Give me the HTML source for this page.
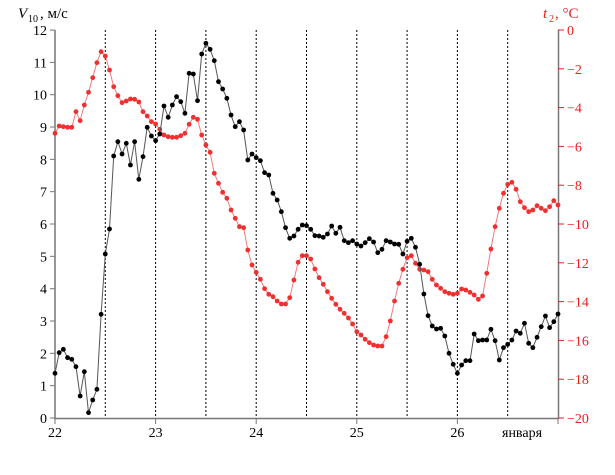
<!DOCTYPE html>
<html><head><meta charset="utf-8"><style>
html,body{margin:0;padding:0;background:#fff;}
svg{display:block;font-family:"Liberation Serif","DejaVu Serif",serif;}
</style></head><body>
<svg id="s" width="615" height="475" xmlns="http://www.w3.org/2000/svg">
<g id="grid"></g>
<line x1="55" y1="30" x2="55" y2="419" stroke="#777" stroke-width="1.5"/>
<line x1="558.5" y1="30" x2="558.5" y2="419" stroke="#777" stroke-width="1.5"/>
<line x1="54" y1="418.5" x2="559" y2="418.5" stroke="#777" stroke-width="1.5"/>
<g id="ticks"></g>
<g id="series"></g>
<text x="18" y="18" font-size="15" font-style="italic">V</text><text x="28" y="22" font-size="10">10</text><text x="40" y="18" font-size="15">, м/с</text>
<text x="543" y="18" font-size="15" fill="#e8211f" font-style="italic">t</text><text x="549" y="22" font-size="10" fill="#e8211f">2</text><text x="555" y="18" font-size="15" fill="#e8211f">, °C</text>
<text x="502" y="437" font-size="14">января</text>
</svg>
<script>
const ns="http://www.w3.org/2000/svg";
function el(p,t,a,txt){const e=document.createElementNS(ns,t);for(const k in a)e.setAttribute(k,a[k]);if(txt!==undefined)e.textContent=txt;document.getElementById(p).appendChild(e);}
const X=h=>55+h*100.6/24;
for(let i=1;i<=9;i++){const x=X(i*12);el("grid","line",{x1:x,y1:30,x2:x,y2:418,stroke:"#000","stroke-width":1,"stroke-dasharray":"2,2"});}
for(let v=0;v<=12;v++){const y=418-v*32.33;el("ticks","line",{x1:50,y1:y,x2:55,y2:y,stroke:"#777"});el("ticks","text",{x:47,y:y+5,"font-size":14,"text-anchor":"end"},v);}
for(let t=0;t>=-20;t-=2){const y=30-t*19.4;el("ticks","line",{x1:558,y1:y,x2:564,y2:y,stroke:"#e8211f"});el("ticks","text",{x:567,y:y+5,"font-size":14,fill:"#e8211f"},t==0?"0":"\u2212"+(-t));}
for(let d=0;d<=5;d++){const x=X(d*24);el("ticks","line",{x1:x,y1:418,x2:x,y2:424,stroke:"#777"});if(d<5)el("ticks","text",{x:x,y:437,"font-size":14,"text-anchor":"middle"},22+d);}
const B=[1030,968,958,983,988,1010,1098,1025,1148,1110,1078,853,672,597,378,335,372,340,405,335,448,380,292,318,332,312,228,262,225,200,215,250,130,132,212,72,40,58,92,155,177,205,255,290,275,300,390,372,383,
392,428,435,490,510,545,593,625,618,598,585,587,598,617,618,622,612,588,610,592,632,638,632,642,648,638,626,636,668,658,632,636,642,643,672,634,
625,652,703,792,857,888,897,895,918,970,1003,1030,1005,992,992,912,932,930,930,898,932,990,953,943,930,903,910,880,940,953,922,890,858,893,875,852];
const R=[310,288,290,292,292,245,272,225,187,143,98,65,78,120,170,197,218,213,207,208,216,245,258,275,282,298,315,320,322,322,317,310,283,262,268,315,345,367,430,460,487,505,540,565,590,
593,660,705,727,748,776,793,800,813,822,822,803,750,697,677,677,687,717,743,763,785,805,823,838,850,864,882,905,915,928,938,945,948,948,920,873,813,760,718,683,
677,700,718,720,725,748,765,775,785,790,793,790,777,780,787,795,808,798,730,657,590,535,490,463,457,478,515,533,545,540,527,535,542,530,512,525];
function draw(d,col,lc){const pts=d.map((z,i)=>X(i).toFixed(1)+","+(30+z/3).toFixed(1));
el("series","polyline",{points:pts.join(" "),fill:"none",stroke:lc,"stroke-width":1});
d.forEach((z,i)=>el("series","circle",{cx:X(i),cy:30+z/3,r:2.4,fill:col}));}
draw(R,"#f03030","#f47a7a");draw(B,"#000","#555");
</script>
</body></html>
